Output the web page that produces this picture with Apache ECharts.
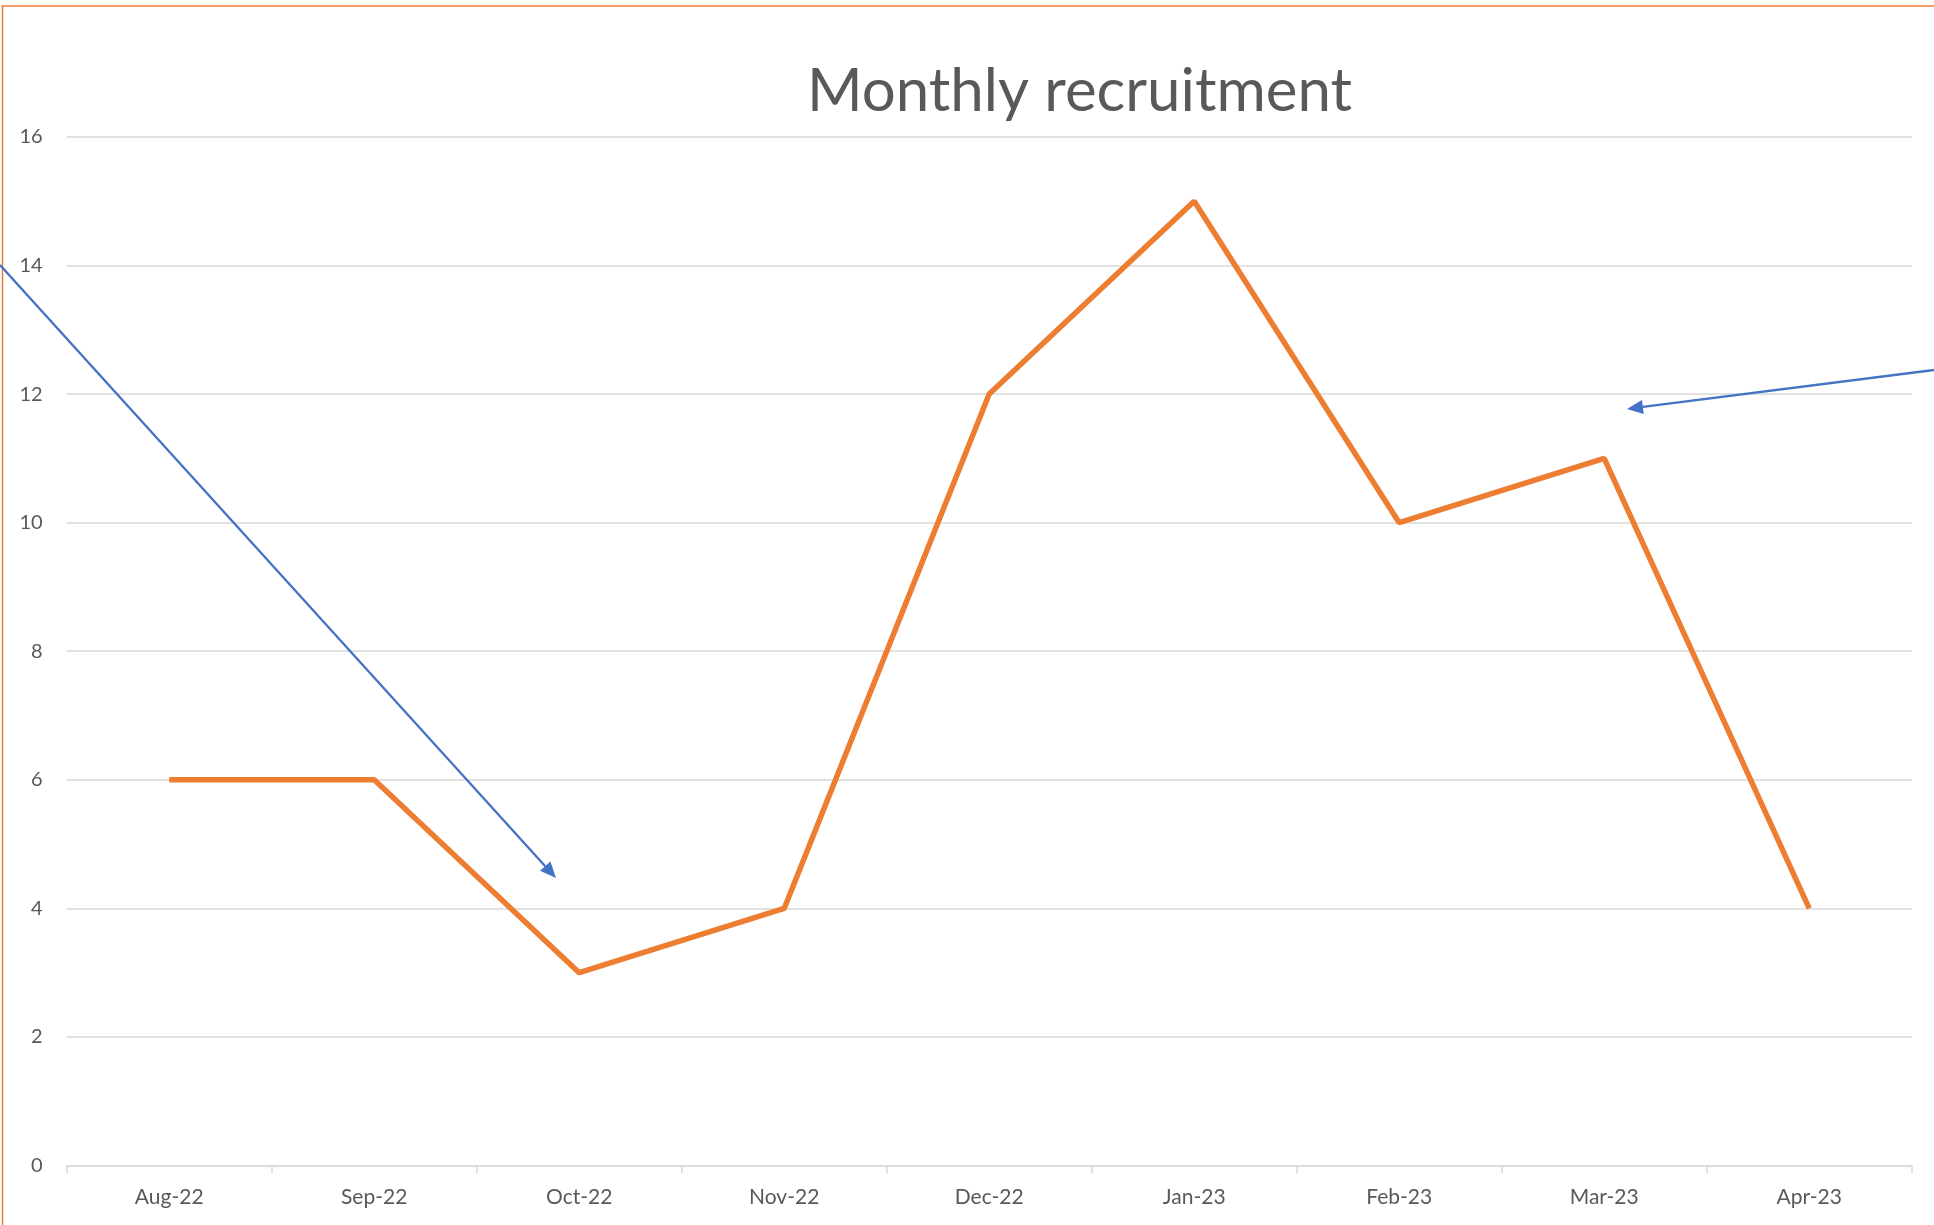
<!DOCTYPE html>
<html><head><meta charset="utf-8">
<script src="https://cdn.jsdelivr.net/npm/echarts@6/dist/echarts.min.js"></script>
<style>html,body{margin:0;padding:0;background:#fff}#c{width:1934px;height:1225px}</style>
</head><body><div id="c"></div>
<script>
var categories = ['Aug-22','Sep-22','Oct-22','Nov-22','Dec-22','Jan-23','Feb-23','Mar-23','Apr-23'];
var recruits = [6, 6, 3, 4, 12, 15, 10, 11, 4];
var yTicks = [0, 2, 4, 6, 8, 10, 12, 14, 16];

var FONT = 'Lato';
function arrow(x1, y1, x2, y2, color) {
  var dx = x2 - x1, dy = y2 - y1, L = Math.sqrt(dx*dx + dy*dy);
  var ux = dx / L, uy = dy / L, hl = 16, hw = 7;
  var bx = x2 - ux*hl, by = y2 - uy*hl;
  return [
    {type:'line', shape:{x1:x1,y1:y1,x2:bx,y2:by}, style:{stroke:color,lineWidth:2.3}, z:10},
    {type:'polygon', shape:{points:[[x2,y2],[bx - uy*hw, by + ux*hw],[bx + uy*hw, by - ux*hw]]}, style:{fill:color}, z:10}
  ];
}
var chart = echarts.init(document.getElementById('c'));
var graphics = [
  {type:'rect', shape:{x:2.5,y:6,width:2200,height:2000}, style:{fill:null, stroke:'#ED7D31', lineWidth:1.5}, z:5}
].concat(arrow(0, 265, 556, 878, '#4472C4')).concat(arrow(1934, 370, 1627, 409, '#4472C4'));

chart.setOption({
  animation:false,
  backgroundColor:'#fff',
  title:{text:'Monthly recruitment', left:807, top:62, textStyle:{fontFamily:FONT, fontSize:60, fontWeight:'normal', color:'#595959'}, padding:0},
  grid:{left:66.7, right:22.3, top:136.9, bottom:59.4, containLabel:false},
  xAxis:{type:'category', data:categories, boundaryGap:true,
    axisLine:{lineStyle:{color:'#d9d9d9', width:1.5}},
    axisTick:{show:true, length:8, lineStyle:{color:'#d9d9d9', width:1.5}},
    axisLabel:{fontFamily:FONT, fontSize:21, color:'#595959', margin:21}},
  yAxis:{type:'value', min:yTicks[0], max:yTicks[yTicks.length-1], interval:2,
    axisLine:{show:false}, axisTick:{show:false},
    splitLine:{lineStyle:{color:'#d9d9d9', width:1.5}},
    axisLabel:{fontFamily:FONT, fontSize:20, color:'#595959', margin:24}},
  series:[{type:'line', data:recruits, symbol:'none', lineStyle:{color:'#ED7D31', width:5.5}, z:3}],
  graphic:graphics
});
</script></body></html>
